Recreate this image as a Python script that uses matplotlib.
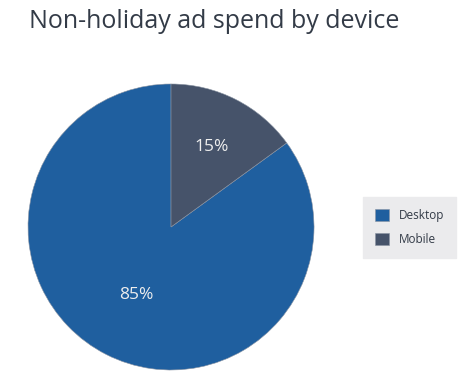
import matplotlib.pyplot as plt
import numpy as np

plt.rcParams['font.family'] = ['Open Sans', 'DejaVu Sans']

devices = ['Desktop', 'Mobile']
shares = [85, 15]
colors = ['#1f5f9f', '#46536a']

fig = plt.figure(figsize=(4.76, 3.91), dpi=100)
ax = fig.add_axes([0.0588, 0.0537, 0.601, 0.7315])

wedges, texts, autotexts = ax.pie(
    shares, colors=colors, startangle=90, counterclock=True,
    autopct='%d%%', pctdistance=0.6,
    wedgeprops=dict(edgecolor='#8a94a3', linewidth=0.4),
    textprops=dict(color='#eeeeee', fontsize=12.5))

# nudge label distances to match the original
dists = [0.53, 0.63]
for w, t, d in zip(wedges, autotexts, dists):
    ang = np.deg2rad((w.theta1 + w.theta2) / 2)
    t.set_position((d * np.cos(ang), d * np.sin(ang)))

ax.set_aspect('equal')
ax.set_xlim(-1, 1)
ax.set_ylim(-1, 1)

fig.text(0.061, 0.945, 'Non-holiday ad spend by device', fontsize=18,
         color='#333b47', va='center', ha='left')

leg = fig.legend(wedges, devices, loc='center left',
                 bbox_to_anchor=(0.762, 0.418), frameon=True,
                 fontsize=8.5, handlelength=1.2, handleheight=1.2,
                 handletextpad=0.9, labelspacing=0.95,
                 borderpad=1.0, borderaxespad=0)
leg.get_frame().set_facecolor('#ebebed')
leg.get_frame().set_edgecolor('#ebebed')
leg.get_frame().set_alpha(1)
leg.get_frame().set_boxstyle('square', pad=0)
for txt in leg.get_texts():
    txt.set_color('#333b47')

fig.savefig('out.png', dpi=100)
